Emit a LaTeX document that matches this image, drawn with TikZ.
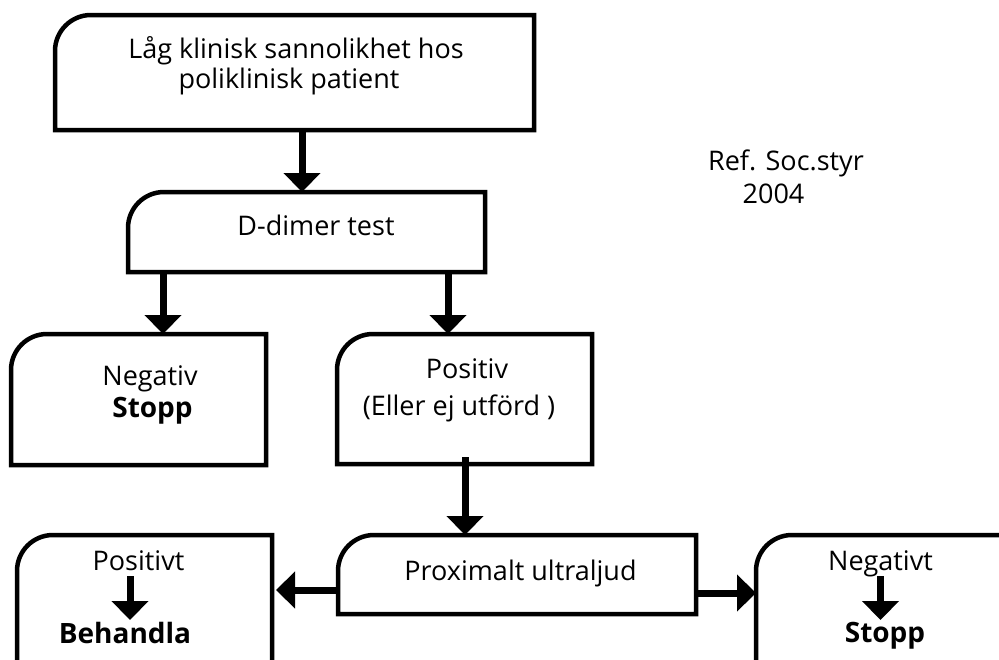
\documentclass[tikz,border=0pt]{standalone}
\usepackage{fontspec}
\setmainfont{Open Sans}
\usetikzlibrary{arrows.meta}
\tikzset{
  boxbase/.style={draw=none, inner sep=0pt, outer sep=0pt},
  boxline/.style={line width=4.5pt, line join=miter},
  arr/.style={line width=7pt, -{Triangle[width=36pt,length=19pt]}},
  txt/.style={inner sep=0pt, anchor=base, font=\fontsize{27}{31}\selectfont},
  btxt/.style={txt, font=\fontsize{28}{32}\selectfont\bfseries},
}
\newcommand\tlbox[1]{%
  \draw[boxline] (#1.south east) -- (#1.south west) -- ([yshift=-36pt]#1.north west)
    arc[start angle=180,end angle=90,radius=36pt] -- (#1.north east) -- cycle;}
\begin{document}
\begin{tikzpicture}[x=1pt,y=1pt]
\useasboundingbox (0,0) rectangle (999,-659);
\clip (0,0) rectangle (999,-659);
\fill[white] (0,0) rectangle (999,-659);

% boxes
\node[boxbase, minimum width=479pt, minimum height=115pt] (b1) at (294.5,-72.5) {};
\node[boxbase, minimum width=357pt, minimum height=80pt] (b2) at (306.5,-232) {};
\node[boxbase, minimum width=255pt, minimum height=131pt] (b3) at (138.5,-399.5) {};
\node[boxbase, minimum width=255pt, minimum height=130pt] (b4) at (464.5,-399) {};
\node[boxbase, minimum width=358pt, minimum height=79pt] (b5) at (517,-574.5) {};
\node[boxbase, minimum width=255pt, minimum height=185pt] (b6) at (144.5,-627.5) {};
\node[boxbase, minimum width=284pt, minimum height=185pt] (b7) at (898,-627.5) {};
\tlbox{b1}\tlbox{b2}\tlbox{b3}\tlbox{b4}\tlbox{b5}\tlbox{b6}\tlbox{b7}

% texts
\node[txt] (t1a) at (296,-58) {Låg klinisk sannolikhet hos};
\node[txt] (t1b) at (289,-88) {poliklinisk patient};
\node[txt] (t2) at (316,-235) {D-dimer test};
\node[txt] (t3a) at (150,-385) {Negativ};
\node[btxt] (t3b) at (152.5,-417) {Stopp};
\node[txt] (t4a) at (467,-378) {Positiv};
\node[txt] (t4b) at (459,-415) {(Eller ej utförd )};
\node[txt] (t5) at (520.5,-580) {Proximalt ultraljud};
\node[txt] (t6a) at (138.5,-570) {Positivt};
\node[btxt] (t6b) at (125,-643) {Behandla};
\node[txt] (t7a) at (880.5,-570) {Negativt};
\node[btxt] (t7b) at (885,-642) {Stopp};
\node[txt] (r1) at (786,-170) {Ref. Soc.styr};
\node[txt] (r2) at (773.5,-203) {2004};

% helper coordinates for connector x/y positions
\coordinate (c1) at (302,0);
\coordinate (c2) at (163,0);
\coordinate (c3) at (448,0);
\coordinate (c4) at (465,0);
\coordinate (c5) at (0,-590);
\coordinate (c6) at (0,-593);
\coordinate (c7) at (130,0);
\coordinate (c8) at (880.5,0);
\coordinate (e6) at (130,-620);
\coordinate (e7) at (880.5,-620);

% connectors
\draw[arr] (b1.south -| c1) -- (b2.north -| c1);
\draw[arr] (b2.south -| c2) -- (b3.north -| c2);
\draw[arr] (b2.south -| c3) -- (b4.north -| c3);
\draw[arr] ([yshift=7pt]b4.south -| c4) -- (b5.north -| c4);
\draw[arr] (b5.west |- c5) -- ([xshift=4pt]b6.east |- c5);
\draw[arr] (b5.east |- c6) -- (b7.west |- c6);
\draw[arr] ([yshift=-6pt]t6a.base -| c7) -- (e6);
\draw[arr] ([yshift=-6pt]t7a.base -| c8) -- (e7);
\end{tikzpicture}
\end{document}
